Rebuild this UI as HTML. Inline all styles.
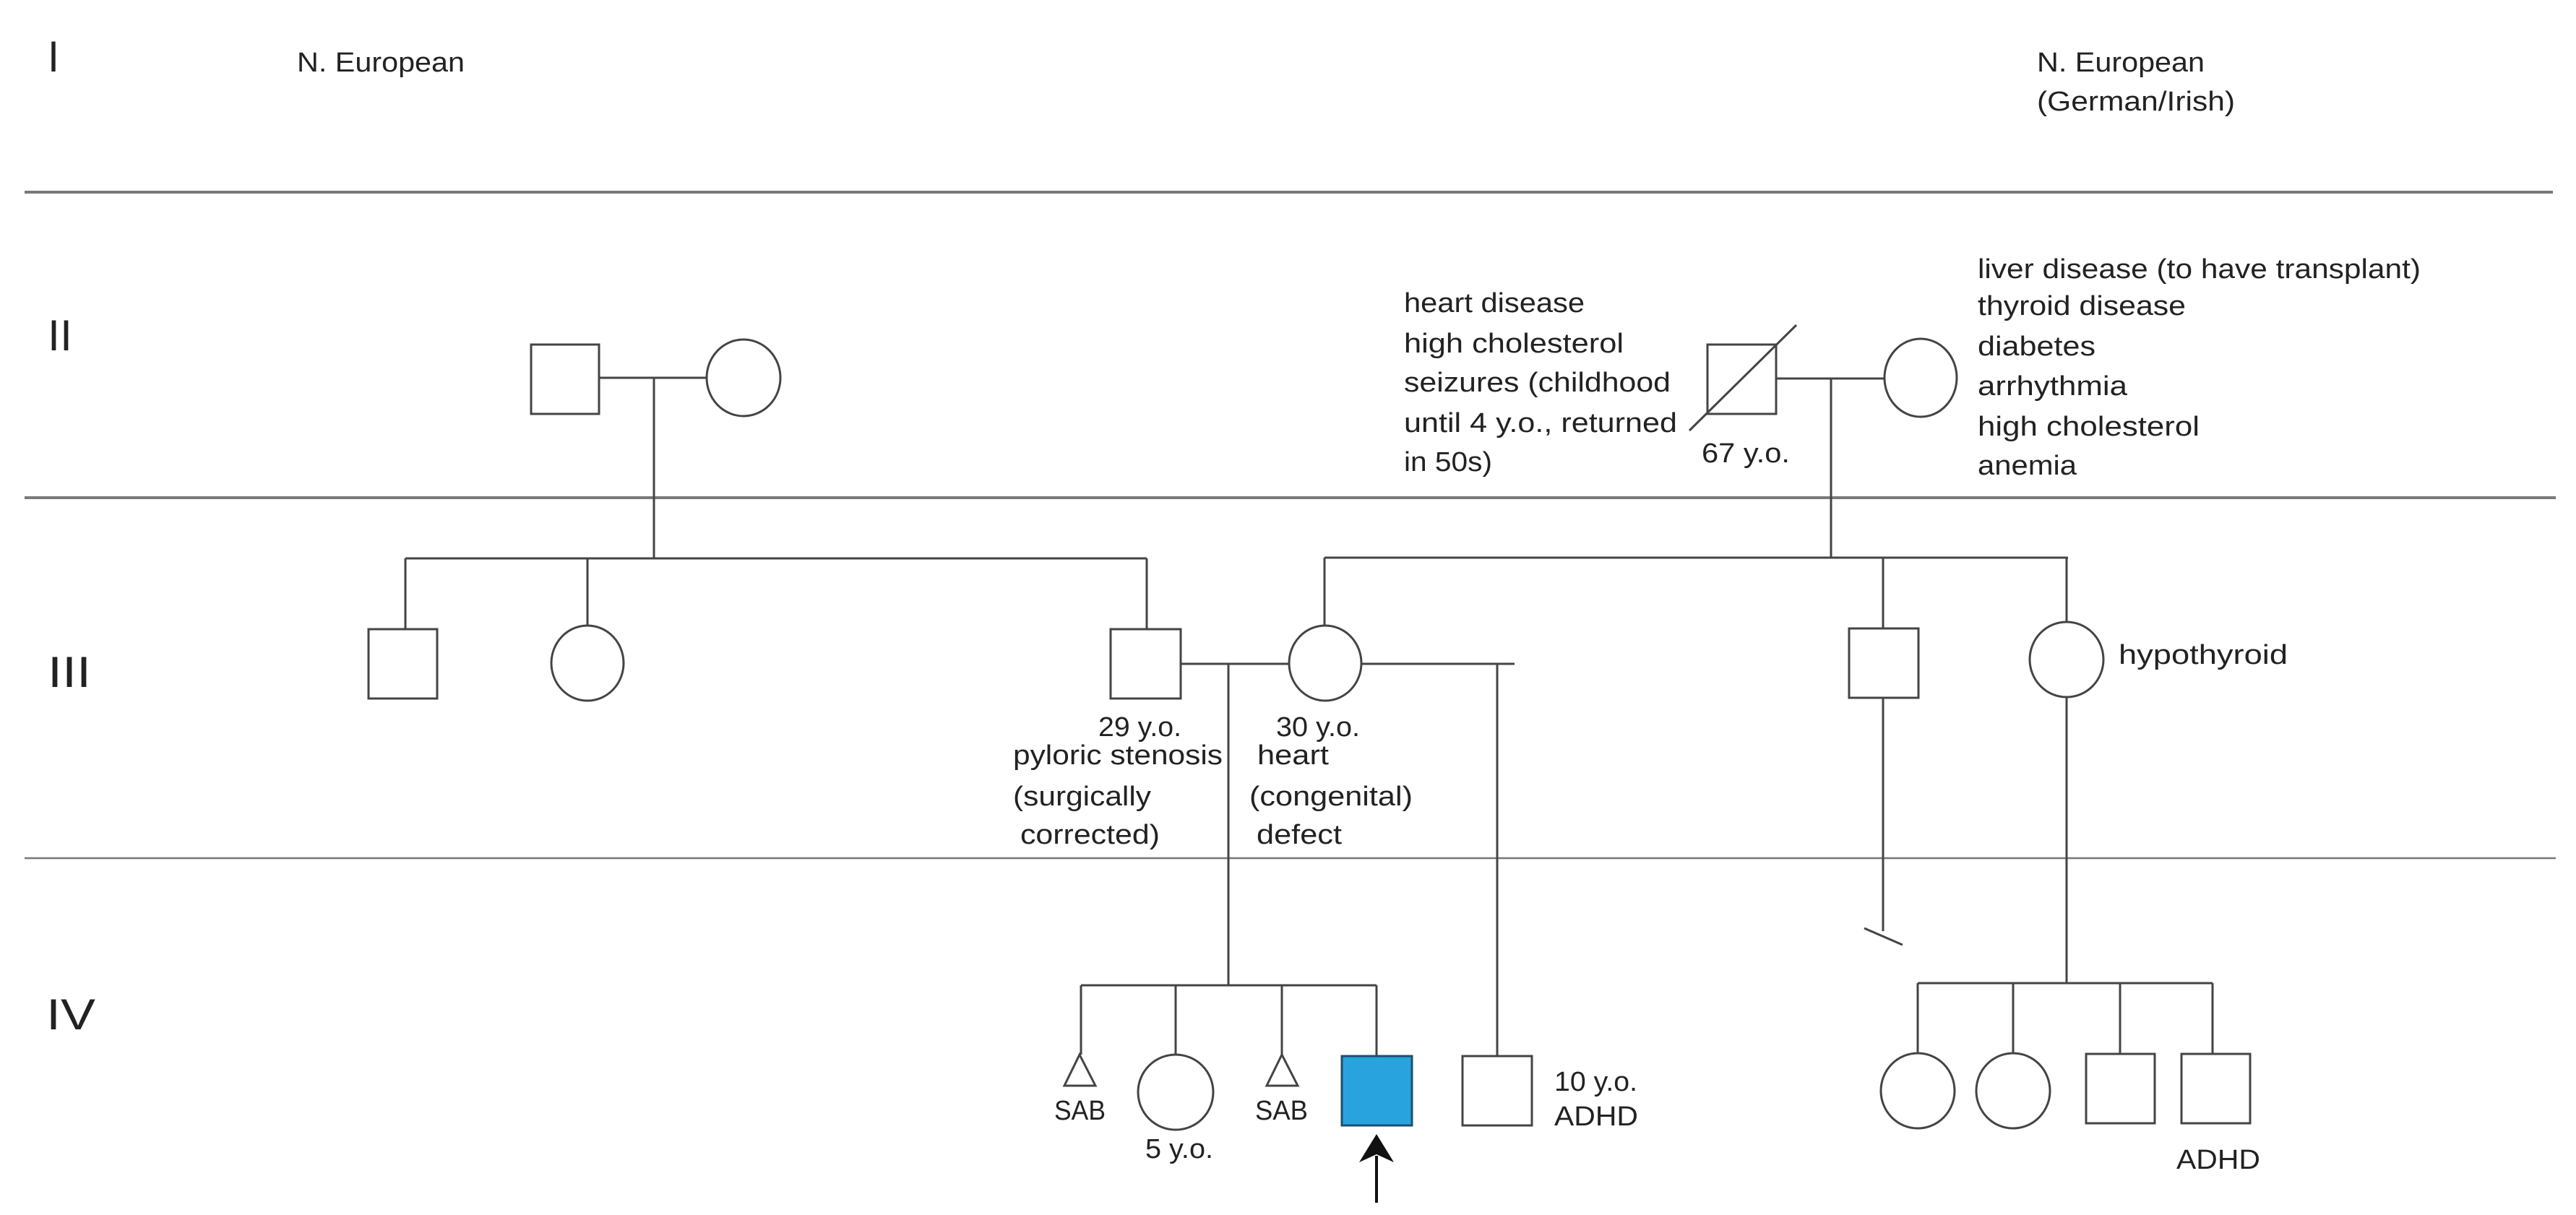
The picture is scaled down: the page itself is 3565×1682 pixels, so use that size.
<!DOCTYPE html>
<html><head><meta charset="utf-8"><style>
html,body{margin:0;padding:0;background:#fff;}
svg{display:block;}
text{font-family:"Liberation Sans",sans-serif;fill:#222;}
</style></head><body>
<svg width="3565" height="1682" viewBox="0 0 3565 1682" xmlns="http://www.w3.org/2000/svg">
<rect width="3565" height="1682" fill="#fff"/>
<!-- generation dividers -->
<g stroke="#7a7a7a" stroke-width="4">
<line x1="34" y1="266" x2="3533" y2="266"/>
<line x1="34" y1="689" x2="3537" y2="689"/>
</g>
<line x1="34" y1="1188" x2="3537" y2="1188" stroke="#777" stroke-width="2.5"/>
<!-- roman numerals -->
<g font-size="60">
<text x="66" y="99" textLength="16" lengthAdjust="spacingAndGlyphs">I</text>
<text x="66" y="485" textLength="34" lengthAdjust="spacingAndGlyphs">II</text>
<text x="66" y="951" textLength="60" lengthAdjust="spacingAndGlyphs">III</text>
<text x="64" y="1425" textLength="68" lengthAdjust="spacingAndGlyphs">IV</text>
</g>
<g font-size="38" lengthAdjust="spacingAndGlyphs">
<text x="411" y="99" textLength="232" lengthAdjust="spacingAndGlyphs">N. European</text>
<text x="2819" y="99" textLength="232" lengthAdjust="spacingAndGlyphs">N. European</text>
<text x="2819" y="153" textLength="274" lengthAdjust="spacingAndGlyphs">(German/Irish)</text>
<!-- gen II left text -->
<text x="1943" y="432" textLength="250" lengthAdjust="spacingAndGlyphs">heart disease</text>
<text x="1943" y="488" textLength="304" lengthAdjust="spacingAndGlyphs">high cholesterol</text>
<text x="1943" y="542" textLength="369" lengthAdjust="spacingAndGlyphs">seizures (childhood</text>
<text x="1943" y="598" textLength="378" lengthAdjust="spacingAndGlyphs">until 4 y.o., returned</text>
<text x="1943" y="652" textLength="122" lengthAdjust="spacingAndGlyphs">in 50s)</text>
<text x="2355" y="640" textLength="122" lengthAdjust="spacingAndGlyphs">67 y.o.</text>
<!-- gen II right text -->
<text x="2737" y="385" textLength="613" lengthAdjust="spacingAndGlyphs">liver disease (to have transplant)</text>
<text x="2737" y="436" textLength="288" lengthAdjust="spacingAndGlyphs">thyroid disease</text>
<text x="2737" y="492" textLength="163" lengthAdjust="spacingAndGlyphs">diabetes</text>
<text x="2737" y="547" textLength="207" lengthAdjust="spacingAndGlyphs">arrhythmia</text>
<text x="2737" y="603" textLength="307" lengthAdjust="spacingAndGlyphs">high cholesterol</text>
<text x="2737" y="657" textLength="137" lengthAdjust="spacingAndGlyphs">anemia</text>
<!-- gen III labels -->
<text x="1520" y="1019" textLength="115" lengthAdjust="spacingAndGlyphs">29 y.o.</text>
<text x="1402" y="1058" textLength="290" lengthAdjust="spacingAndGlyphs">pyloric stenosis</text>
<text x="1402" y="1115" textLength="191" lengthAdjust="spacingAndGlyphs">(surgically</text>
<text x="1412" y="1168" textLength="193" lengthAdjust="spacingAndGlyphs">corrected)</text>
<text x="1766" y="1019" textLength="116" lengthAdjust="spacingAndGlyphs">30 y.o.</text>
<text x="1740" y="1058" textLength="99" lengthAdjust="spacingAndGlyphs">heart</text>
<text x="1729" y="1115" textLength="226" lengthAdjust="spacingAndGlyphs">(congenital)</text>
<text x="1739" y="1168" textLength="118" lengthAdjust="spacingAndGlyphs">defect</text>
<text x="2932" y="919" textLength="234" lengthAdjust="spacingAndGlyphs">hypothyroid</text>
<!-- gen IV labels -->
<text x="1459" y="1550" textLength="71" lengthAdjust="spacingAndGlyphs">SAB</text>
<text x="1585" y="1603" textLength="94" lengthAdjust="spacingAndGlyphs">5 y.o.</text>
<text x="1737" y="1550" textLength="73" lengthAdjust="spacingAndGlyphs">SAB</text>
<text x="2151" y="1510" textLength="115" lengthAdjust="spacingAndGlyphs">10 y.o.</text>
<text x="2151" y="1558" textLength="116" lengthAdjust="spacingAndGlyphs">ADHD</text>
<text x="3012" y="1618" textLength="116" lengthAdjust="spacingAndGlyphs">ADHD</text>
</g>
<!-- pedigree lines -->
<g stroke="#444" stroke-width="3" fill="none">
<!-- gen II left couple -->
<rect x="735" y="477" width="94" height="96"/>
<ellipse cx="1029" cy="523" rx="51" ry="53"/>
<line x1="829" y1="523" x2="978" y2="523"/>
<line x1="905" y1="523" x2="905" y2="773"/>
<line x1="561" y1="773" x2="1587" y2="773"/>
<line x1="561" y1="773" x2="561" y2="871"/>
<line x1="813" y1="773" x2="813" y2="866"/>
<line x1="1587" y1="773" x2="1587" y2="871"/>
<!-- gen III left -->
<rect x="510" y="871" width="95" height="96"/>
<ellipse cx="813" cy="918" rx="50" ry="52"/>
<rect x="1537" y="871" width="97" height="96"/>
<ellipse cx="1834" cy="918" rx="50" ry="52"/>
<line x1="1634" y1="919" x2="1784" y2="919"/>
<line x1="1884" y1="919" x2="2096" y2="919"/>
<line x1="1700" y1="919" x2="1700" y2="1364"/>
<line x1="2072" y1="919" x2="2072" y2="1462"/>
<!-- gen IV left sibship -->
<line x1="1496" y1="1364" x2="1905" y2="1364"/>
<line x1="1496" y1="1364" x2="1496" y2="1460"/>
<line x1="1627" y1="1364" x2="1627" y2="1460"/>
<line x1="1774" y1="1364" x2="1774" y2="1460"/>
<line x1="1905" y1="1364" x2="1905" y2="1462"/>
<polygon points="1494,1460 1473,1503 1516,1503"/>
<ellipse cx="1627" cy="1512" rx="52" ry="52"/>
<polygon points="1774,1460 1753,1503 1796,1503"/>
<rect x="2024" y="1462" width="96" height="96"/>
<!-- gen II right couple -->
<rect x="2363" y="477" width="95" height="96"/>
<line x1="2338" y1="596" x2="2486" y2="450"/>
<ellipse cx="2658" cy="523" rx="50" ry="54"/>
<line x1="2458" y1="524" x2="2608" y2="524"/>
<line x1="2534" y1="524" x2="2534" y2="772"/>
<line x1="1833" y1="772" x2="2862" y2="772"/>
<line x1="1833" y1="772" x2="1833" y2="866"/>
<line x1="2606" y1="772" x2="2606" y2="870"/>
<line x1="2860" y1="772" x2="2860" y2="861"/>
<!-- gen III right -->
<rect x="2559" y="870" width="96" height="96"/>
<ellipse cx="2860" cy="913" rx="51" ry="52"/>
<line x1="2606" y1="966" x2="2606" y2="1289"/>
<line x1="2580" y1="1285" x2="2633" y2="1308"/>
<line x1="2860" y1="965" x2="2860" y2="1361"/>
<line x1="2654" y1="1361" x2="3062" y2="1361"/>
<line x1="2654" y1="1361" x2="2654" y2="1458"/>
<line x1="2786" y1="1361" x2="2786" y2="1458"/>
<line x1="2934" y1="1361" x2="2934" y2="1459"/>
<line x1="3062" y1="1361" x2="3062" y2="1459"/>
<ellipse cx="2654" cy="1510" rx="51" ry="52"/>
<ellipse cx="2786" cy="1510" rx="51" ry="52"/>
<rect x="2887" y="1459" width="95" height="96"/>
<rect x="3019" y="1459" width="95" height="96"/>
</g>
<!-- proband -->
<rect x="1857" y="1462" width="97" height="96" fill="#29a3dd" stroke="#1d4f6e" stroke-width="3"/>
<line x1="1905" y1="1600" x2="1905" y2="1665" stroke="#111" stroke-width="4"/>
<polygon points="1905,1570 1881,1609 1905,1598 1929,1609" fill="#111"/>
</svg>
</body></html>
